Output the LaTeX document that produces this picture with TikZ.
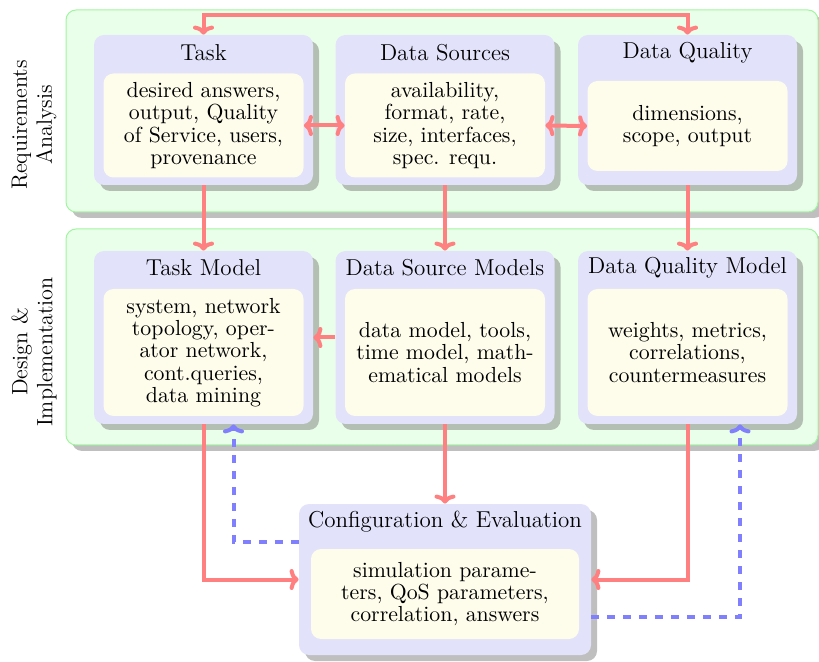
\documentclass[tikz,border=0pt]{standalone}
\usetikzlibrary{shadows,arrows.meta}
\definecolor{stagefill}{RGB}{234,255,234}
\definecolor{stageline}{RGB}{160,245,160}
\definecolor{blockfill}{RGB}{226,226,251}
\definecolor{notefill}{RGB}{254,252,234}
\definecolor{flowred}{RGB}{255,128,128}
\definecolor{backblue}{RGB}{128,128,255}
\tikzset{
  shade3/.style={drop shadow={shadow xshift=3pt,shadow yshift=-3pt}},
  stage/.style={draw=stageline, fill=stagefill, line width=0.5pt, rounded corners=5pt, shade3, inner sep=0pt},
  block/.style={fill=blockfill, rounded corners=5pt, shade3, inner sep=0pt, minimum width=109.5pt},
  note/.style={fill=notefill, rounded corners=5pt, inner sep=0pt, align=center, minimum width=100pt,
    font=\fontsize{10.9pt}{11.2pt}\selectfont},
  heading/.style={font=\fontsize{11.5pt}{13pt}\selectfont, inner sep=0pt},
  phase/.style={rotate=90, align=center, inner sep=0pt, font=\fontsize{11.1pt}{12.5pt}\selectfont},
  flow/.style={draw=flowred, line width=2pt, -{To[length=4.5pt,width=10.5pt]}},
  flow2/.style={draw=flowred, line width=2pt, {To[length=4.5pt,width=10.5pt]}-{To[length=4.5pt,width=10.5pt]}},
  back/.style={draw=backblue, line width=2pt, dash pattern=on 4pt off 4pt, -{To[length=4.5pt,width=10.5pt]}},
}
\begin{document}
\begin{tikzpicture}[x=0.5pt,y=-0.5pt]
\useasboundingbox (0,0) rectangle (819,662);

% phases
\node[stage, minimum width=376pt, minimum height=101pt] (req) at (442,111) {};
\node[stage, minimum width=376pt, minimum height=108pt] (des) at (442,337) {};
\node[phase] (reqlabel) at (34,125) {Requirements\\Analysis};
\node[phase] (deslabel) at (34,352) {Design \&\\Implementation};

% requirements analysis
\node[block, minimum height=75pt] (task) at (203.5,110) {};
\node[block, minimum height=75pt] (src) at (445,110) {};
\node[block, minimum height=75pt] (qual) at (687.5,110) {};
\node[heading] (taskt) at (203.5,53) {Task};
\node[heading] (srct) at (445,53) {Data Sources};
\node[heading] (qualt) at (687.5,53) {Data Quality};
\node[note, minimum height=52pt] (taskin) at (203.5,125.5)
  {desired answers,\\output, Quality\\of Service, users,\\provenance};
\node[note, minimum height=52pt] (srcin) at (445,125.5)
  {availability,\\format, rate,\\size, interfaces,\\spec. requ.};
\node[note, minimum height=45pt] (qualin) at (687.5,126)
  {dimensions,\\scope, output};

% design & implementation
\node[block, minimum height=86.5pt] (taskm) at (203.5,337.5) {};
\node[block, minimum height=86.5pt] (srcm) at (445,337.5) {};
\node[block, minimum height=86.5pt] (qualm) at (687.5,337.5) {};
\node[heading] (taskmt) at (203.5,268) {Task Model};
\node[heading] (srcmt) at (445,268) {Data Source Models};
\node[heading] (qualmt) at (687.5,268) {Data Quality Model};
\node[note, minimum height=63.5pt] (taskmin) at (203.5,352.5)
  {system, network\\topology, oper-\\ator network,\\cont.queries,\\data mining};
\node[note, minimum height=63.5pt] (srcmin) at (445,352.5)
  {data model, tools,\\time model, math-\\ematical models};
\node[note, minimum height=63.5pt] (qualmin) at (687.5,352.5)
  {weights, metrics,\\correlations,\\countermeasures};

% configuration & evaluation
\node[block, minimum width=146pt, minimum height=75.5pt] (conf) at (445,579.5) {};
\node[heading] (conft) at (445,522) {Configuration \& Evaluation};
\node[note, minimum width=134pt, minimum height=45pt] (confin) at (445,594)
  {simulation parame-\\ters, QoS parameters,\\correlation, answers};

% connectors
\draw[flow2] (task.north) -- ++(0,-20) -| (qual.north);
\draw[flow2] (taskin.east) -- (srcin.west);
\draw[flow2] (srcin.east) -- (qualin.west);
\draw[flow] (task.south) -- (taskm.north);
\draw[flow] (src.south) -- (srcm.north);
\draw[flow] (qual.south) -- (qualm.north);
\draw[flow] (srcm.west) -- (taskm.east);
\draw[flow] (srcm.south) -- (conf.north);
\draw[flow] (taskm.south) |- (conf.west);
\draw[flow] (qualm.south) |- (conf.east);
\draw[back] ([yshift=18.75pt]conf.west) -| ([xshift=15pt]taskm.south);
\draw[back] ([yshift=-18.75pt]conf.east) -| ([xshift=26.25pt]qualm.south);
\end{tikzpicture}
\end{document}
